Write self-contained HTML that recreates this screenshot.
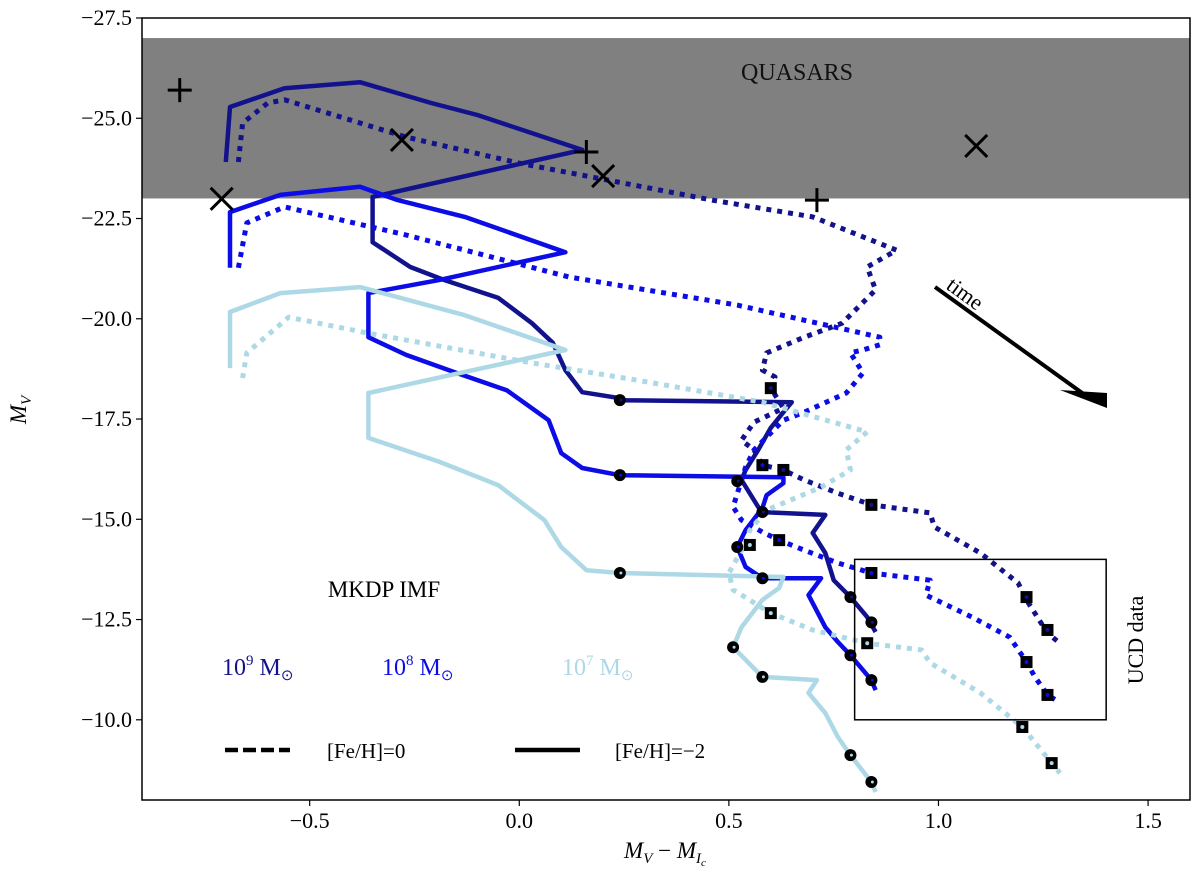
<!DOCTYPE html>
<html><head><meta charset="utf-8"><style>
html,body{margin:0;padding:0;background:#fff;}
svg{display:block;font-family:"Liberation Serif",serif;}
</style></head><body>
<svg id="chart" width="1200" height="884" viewBox="0 0 1200 884" xmlns="http://www.w3.org/2000/svg">
<g id="plot"></g>
</svg>
<script>
const xTicks=[-0.5,0.0,0.5,1.0,1.5];
const xTickLabels=["−0.5","0.0","0.5","1.0","1.5"];
const yTicks=[-27.5,-25,-22.5,-20,-17.5,-15,-12.5,-10];
const yTickLabels=["−27.5","−25.0","−22.5","−20.0","−17.5","−15.0","−12.5","−10.0"];
const quasarBand=[-27.0,-23.0];
// solid tracks [Fe/H]=-2
const s9x=[-0.70,-0.69,-0.56,-0.38,-0.21,-0.10,0.15,-0.35,-0.35,-0.26,-0.18,-0.05,0.03,0.08,0.11,0.15,0.24,0.24,0.65,0.63,0.60,0.57,0.54,0.53,0.57,0.58,0.73,0.70,0.73,0.75,0.79,0.83,0.85];
const s9y=[-23.91,-25.28,-25.75,-25.90,-25.38,-25.08,-24.21,-23.04,-21.91,-21.29,-20.97,-20.52,-19.89,-19.40,-18.72,-18.17,-18.02,-17.97,-17.92,-17.67,-17.28,-16.73,-16.23,-15.98,-15.31,-15.18,-15.11,-14.66,-14.16,-13.48,-13.06,-12.56,-12.19];
const s8x=[-0.69,-0.69,-0.57,-0.38,-0.29,-0.13,0.11,-0.19,-0.36,-0.36,-0.27,-0.15,-0.03,0.07,0.10,0.15,0.24,0.63,0.63,0.59,0.58,0.54,0.52,0.54,0.58,0.72,0.69,0.73,0.76,0.79,0.84,0.85];
const s8y=[-21.27,-22.66,-23.09,-23.29,-22.96,-22.54,-21.66,-20.97,-20.64,-19.54,-19.10,-18.65,-18.22,-17.47,-16.65,-16.28,-16.10,-16.05,-15.90,-15.60,-15.28,-14.73,-14.31,-13.81,-13.53,-13.53,-13.11,-12.31,-11.94,-11.61,-10.99,-10.74];
const s7x=[-0.69,-0.69,-0.57,-0.38,-0.13,0.11,-0.36,-0.36,-0.19,-0.05,0.06,0.10,0.16,0.24,0.63,0.62,0.58,0.53,0.51,0.58,0.71,0.69,0.73,0.76,0.79,0.84,0.85];
const s7y=[-18.77,-20.17,-20.64,-20.79,-20.09,-19.22,-18.15,-17.03,-16.43,-15.85,-14.98,-14.31,-13.73,-13.66,-13.56,-13.29,-12.99,-12.31,-11.81,-11.07,-10.99,-10.67,-10.17,-9.57,-9.12,-8.45,-8.20];
// dashed tracks [Fe/H]=0
const d9x=[-0.67,-0.66,-0.60,-0.56,-0.27,0.00,0.21,0.46,0.70,0.90,0.83,0.85,0.77,0.68,0.59,0.58,0.61,0.60,0.63,0.56,0.53,0.56,0.58,0.63,0.68,0.76,0.84,0.98,0.99,1.10,1.19,1.21,1.26,1.29];
const d9y=[-23.91,-24.88,-25.38,-25.46,-24.53,-23.88,-23.46,-22.96,-22.54,-21.71,-21.29,-20.72,-19.89,-19.54,-19.15,-18.72,-18.55,-18.27,-17.77,-17.42,-16.97,-16.73,-16.35,-16.23,-15.98,-15.65,-15.36,-15.16,-14.81,-14.16,-13.41,-12.99,-12.16,-11.91];
const d8x=[-0.67,-0.65,-0.56,-0.27,0.12,0.52,0.86,0.86,0.82,0.79,0.82,0.78,0.68,0.63,0.56,0.54,0.51,0.53,0.58,0.62,0.68,0.76,0.84,0.98,0.97,1.08,1.17,1.21,1.23,1.26,1.28];
const d8y=[-21.27,-22.39,-22.79,-22.09,-21.04,-20.34,-19.54,-19.35,-19.22,-19.15,-18.65,-18.15,-17.67,-17.47,-16.73,-16.30,-15.31,-14.98,-14.68,-14.48,-14.23,-13.91,-13.66,-13.48,-13.11,-12.56,-12.06,-11.44,-11.07,-10.62,-10.49];
const d7x=[-0.66,-0.65,-0.55,-0.36,0.03,0.28,0.58,0.83,0.78,0.79,0.72,0.59,0.55,0.54,0.50,0.51,0.60,0.70,0.83,0.96,0.98,1.10,1.20,1.27,1.29];
const d7y=[-18.52,-19.15,-20.04,-19.64,-18.90,-18.47,-17.92,-17.18,-16.73,-16.23,-15.80,-15.23,-14.73,-14.41,-13.66,-13.24,-12.66,-12.24,-11.91,-11.74,-11.42,-10.67,-9.82,-8.92,-8.67];
// markers
const c9x=[0.24,0.52,0.58,0.79,0.84], c9y=[-17.97,-15.95,-15.18,-13.06,-12.43];
const c8x=[0.24,0.52,0.58,0.79,0.84], c8y=[-16.10,-14.31,-13.53,-11.61,-10.99];
const c7x=[0.24,0.51,0.58,0.79,0.84], c7y=[-13.66,-11.81,-11.07,-9.12,-8.45];
const q9x=[0.60,0.63,0.84,1.21,1.26], q9y=[-18.27,-16.23,-15.36,-13.06,-12.24];
const q8x=[0.58,0.62,0.84,1.21,1.26], q8y=[-16.35,-14.48,-13.66,-11.44,-10.62];
const q7x=[0.55,0.60,0.83,1.20,1.27], q7y=[-14.36,-12.66,-11.91,-9.82,-8.92];
const plusX=[-0.81,0.16,0.71], plusY=[-25.70,-24.16,-22.96];
const crossX=[-0.71,-0.28,0.20,1.09], crossY=[-22.99,-24.46,-23.56,-24.31];
const ucdBox=[0.80,1.40,-14.0,-10.0];

const X0=142,X1=1190,Y0=18,Y1=800,XMIN=-0.9,XMAX=1.6,YTOP=-27.5,YBOT=-8.0;
const sx=v=>X0+(v-XMIN)/(XMAX-XMIN)*(X1-X0);
const sy=v=>Y0+(v-YTOP)/(YBOT-YTOP)*(Y1-Y0);
const NS="http://www.w3.org/2000/svg";
const svg=document.getElementById('chart');
function mk(tag,attrs,parent){const e=document.createElementNS(NS,tag);for(const k in attrs)e.setAttribute(k,attrs[k]);(parent||svg).appendChild(e);return e;}

const band=mk('rect',{x:X0,y:sy(quasarBand[0]),width:X1-X0,height:sy(quasarBand[1])-sy(quasarBand[0]),fill:'#808080'});


const qt=mk('text',{x:797,y:80,'font-size':24,'text-anchor':'middle',fill:'#111'});qt.textContent='QUASARS';



function line(xs,ys,color,dashed,name){
  const p=xs.map((v,i)=>sx(v).toFixed(1)+','+sy(ys[i]).toFixed(1)).join(' ');
  const a={points:p,fill:'none',stroke:color,'stroke-width':dashed?5:4.5,'stroke-linejoin':'round'};
  if(dashed){a['stroke-dasharray']='5 6';}
  const e=mk('polyline',a);
  
  
}
const C9='#12128c',C8='#0c0ce6',C7='#add8e6';
line(s9x,s9y,C9,false,'track-1e9-solid');
line(s8x,s8y,C8,false,'track-1e8-solid');
line(s7x,s7y,C7,false,'track-1e7-solid');
line(d9x,d9y,C9,true,'track-1e9-dashed');
line(d8x,d8y,C8,true,'track-1e8-dashed');
line(d7x,d7y,C7,true,'track-1e7-dashed');

function circles(xs,ys,col,name){xs.forEach((v,i)=>{const c=mk('circle',{cx:sx(v),cy:sy(ys[i]),r:6,fill:'#000'});


mk('circle',{cx:sx(v)+1,cy:sy(ys[i]),r:1.5,fill:col});});}
function squares(xs,ys,col,name){xs.forEach((v,i)=>{const r=mk('rect',{x:sx(v)-6,y:sy(ys[i])-6,width:12,height:12,fill:'#000'});


mk('circle',{cx:sx(v),cy:sy(ys[i]),r:2,fill:col});});}
circles(c9x,c9y,C9,'marker-1e9-solid');circles(c8x,c8y,C8,'marker-1e8-solid');circles(c7x,c7y,C7,'marker-1e7-solid');
squares(q9x,q9y,C9,'marker-1e9-dashed');squares(q8x,q8y,C8,'marker-1e8-dashed');squares(q7x,q7y,C7,'marker-1e7-dashed');

plusX.forEach((v,i)=>{const x=sx(v),y=sy(plusY[i]);
const g=mk('path',{d:`M${x-12},${y}H${x+12}M${x},${y-12}V${y+12}`,stroke:'#000','stroke-width':3});

});
crossX.forEach((v,i)=>{const x=sx(v),y=sy(crossY[i]);
const g=mk('path',{d:`M${x-11},${y-11}L${x+11},${y+11}M${x-11},${y+11}L${x+11},${y-11}`,stroke:'#000','stroke-width':3});

});

const ub=mk('rect',{x:sx(ucdBox[0]),y:sy(ucdBox[2]),width:sx(ucdBox[1])-sx(ucdBox[0]),height:sy(ucdBox[3])-sy(ucdBox[2]),fill:'none',stroke:'#000','stroke-width':1.5});


const ut=mk('text',{x:0,y:0,'font-size':22,'text-anchor':'middle',transform:'translate(1143,640) rotate(-90)'});ut.textContent='UCD data';



const ar=mk('g',{});


mk('line',{x1:935,y1:287,x2:1085,y2:395,stroke:'#000','stroke-width':4},ar);
mk('polygon',{points:'1060,390 1107,393 1107,408',fill:'#000'},ar);
const tt=mk('text',{x:0,y:0,'font-size':22,transform:'translate(945,288) rotate(36)'});tt.textContent='time';



function txt(x,y,s,size,col,name,anchor){const t=mk('text',{x:x,y:y,'font-size':size,fill:col||'#000','text-anchor':anchor||'start'});t.innerHTML=s;

return t;}
txt(384,597,'MKDP IMF',23,'#000','imf-label','middle');
txt(222,675,'10<tspan dy="-10" font-size="15">9</tspan><tspan dy="10"> M</tspan><tspan dy="5" font-size="15">⊙</tspan>',24,C9,'mass-label-1e9');
txt(382,675,'10<tspan dy="-10" font-size="15">8</tspan><tspan dy="10"> M</tspan><tspan dy="5" font-size="15">⊙</tspan>',24,C8,'mass-label-1e8');
txt(562,675,'10<tspan dy="-10" font-size="15">7</tspan><tspan dy="10"> M</tspan><tspan dy="5" font-size="15">⊙</tspan>',24,C7,'mass-label-1e7');
const l1=mk('line',{x1:225,y1:750,x2:290,y2:750,stroke:'#000','stroke-width':4.5,'stroke-dasharray':'13 5'});


txt(327,758,'[Fe/H]=0',21,'#000','legend-feh-0');
const l2=mk('line',{x1:515,y1:750,x2:580,y2:750,stroke:'#000','stroke-width':4.5});


txt(615,758,'[Fe/H]=−2',21,'#000','legend-feh-minus2');

const fr=mk('rect',{x:X0,y:Y0,width:X1-X0,height:Y1-Y0,fill:'none',stroke:'#000','stroke-width':1.5});


xTicks.forEach((v,i)=>{const x=sx(v);mk('line',{x1:x,y1:Y1,x2:x,y2:Y1+6,stroke:'#000','stroke-width':1.2});
txt(x,Y1+28,xTickLabels[i],22,'#000','x-tick-label','middle');});
yTicks.forEach((v,i)=>{const y=sy(v);mk('line',{x1:X0-6,y1:y,x2:X0,y2:y,stroke:'#000','stroke-width':1.2});
txt(X0-10,y+7,yTickLabels[i],22,'#000','y-tick-label','end');});
txt(665,858,'<tspan font-style="italic">M</tspan><tspan font-size="15" dy="5" font-style="italic">V</tspan><tspan dy="-5"> − </tspan><tspan font-style="italic">M</tspan><tspan font-size="15" dy="5" font-style="italic">I</tspan><tspan font-size="11" dy="3" font-style="italic">c</tspan>',23,'#000','x-axis-title','middle');
const yl=mk('text',{x:0,y:0,'font-size':23,'text-anchor':'middle',transform:'translate(26,410) rotate(-90)'});
yl.innerHTML='<tspan font-style="italic">M</tspan><tspan font-size="15" dy="5" font-style="italic">V</tspan>';


</script>
</body></html>
